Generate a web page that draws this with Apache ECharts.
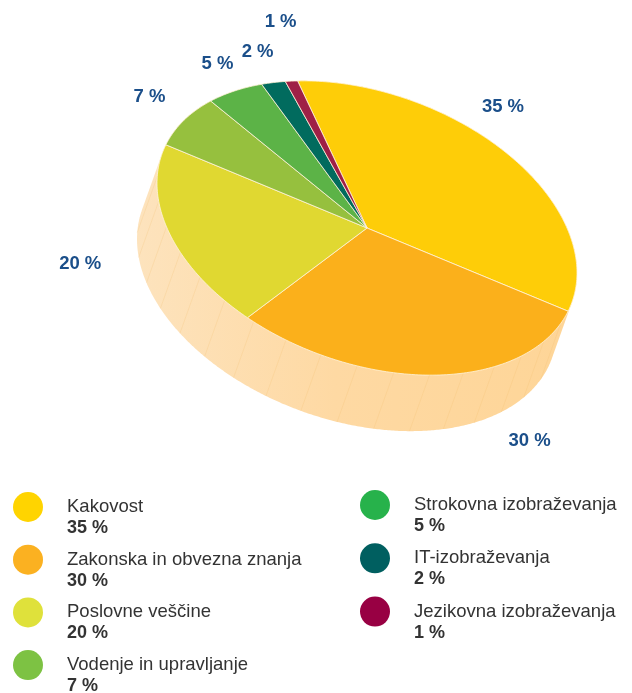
<!DOCTYPE html>
<html>
<head>
<meta charset="utf-8">
<script src="https://cdn.jsdelivr.net/npm/echarts@6/dist/echarts.min.js"></script>
<style>
html, body { margin: 0; padding: 0; background: #fff; }
#chart { width: 632px; height: 693px; }
</style>
</head>
<body>
<div id="chart"></div>
<script>
// data
var names = ['Kakovost', 'Zakonska in obvezna znanja', 'Poslovne veščine', 'Vodenje in upravljanje',
    'Strokovna izobraževanja', 'IT-izobraževanja', 'Jezikovna izobraževanja'];
var values = [35, 30, 20, 7, 5, 2, 1];

// colours
var pieColors = ['#fecd08', '#fbb01b', '#e0d831', '#96c03e', '#5cb347', '#016b5e', '#9f2046'];
var legendColors = ['#ffd400', '#fbb121', '#dfe13b', '#7dc243', '#27b24b', '#005f60', '#980043'];

// tilted pie layout
var cx = 367, cy = 228, ra = 218, rb = 135, tilt = 20 * Math.PI / 180;
var depth = [-20, 56];
var startAngle = 122;
var labelTurn = [12.5, 12, 7.5, -1, -2, -1, -4];
var labelReach = [1.25, 1.49, 1.53, 1.2, 1.18, 1.21, 1.4];
var font = 'Liberation Sans';

var total = 0, cum = [];
for (var i = 0; i < values.length; i++) {
    cum.push(total);
    total += values[i];
}

function toRad(d) {
    return d * Math.PI / 180;
}

// point of the top ellipse for a pie angle (deg, counter clockwise from 3 o'clock)
function onEllipse(deg, k) {
    var p = toRad(deg);
    var x0 = ra * k * Math.cos(p), y0 = -rb * k * Math.sin(p);
    return [cx + x0 * Math.cos(tilt) - y0 * Math.sin(tilt),
        cy + x0 * Math.sin(tilt) + y0 * Math.cos(tilt)];
}

// is the rim visible at this angle
function facesDown(deg) {
    var p = toRad(deg);
    var nx0 = Math.cos(p) / ra, ny0 = -Math.sin(p) / rb;
    var nx = nx0 * Math.cos(tilt) - ny0 * Math.sin(tilt);
    var ny = nx0 * Math.sin(tilt) + ny0 * Math.cos(tilt);
    return nx * depth[0] + ny * depth[1] > 0;
}

function sideShapes() {
    var out = [];
    var pts = [];
    for (var d = 0; d < 360; d += 0.5) {
        var e = onEllipse(d, 1);
        pts.push(facesDown(d) ? [e[0] + depth[0], e[1] + depth[1]] : e);
    }
    out.push({
        type: 'polygon',
        shape: {points: pts},
        style: {
            fill: new echarts.graphic.LinearGradient(0, 0, 1, 0, [
                {offset: 0, color: '#fde3bd'},
                {offset: 0.45, color: '#fed9a3'},
                {offset: 1, color: '#fed597'}
            ])
        }
    });
    for (var d2 = 0; d2 < 360; d2 += 10) {
        if (!facesDown(d2 - 3) || !facesDown(d2 + 3)) continue;
        var s = onEllipse(d2, 1);
        out.push({
            type: 'line',
            shape: {x1: s[0], y1: s[1], x2: s[0] + depth[0], y2: s[1] + depth[1]},
            style: {stroke: 'rgba(240, 185, 100, 0.2)', lineWidth: 1}
        });
    }
    return out;
}

function renderSlice(params, api) {
    var i = params.dataIndex;
    var children = i === 0 ? sideShapes() : [];
    var a0 = startAngle - 360 * cum[i] / total;
    var a1 = a0 - 360 * api.value(0) / total;
    var pts = [[cx, cy]];
    var n = Math.max(2, Math.ceil(a0 - a1));
    for (var j = 0; j <= n; j++) {
        pts.push(onEllipse(a0 + (a1 - a0) * j / n, 1));
    }
    children.push({
        type: 'polygon',
        shape: {points: pts},
        style: {fill: pieColors[i], stroke: '#fff4dc', lineWidth: 0.8, lineJoin: 'round'}
    });
    var lp = onEllipse((a0 + a1) / 2 + labelTurn[i], labelReach[i]);
    children.push({
        type: 'text',
        x: lp[0],
        y: lp[1],
        style: {
            text: api.value(0) + ' %',
            fill: '#1b4f8a',
            fontSize: 18.5,
            fontWeight: 'bold',
            fontFamily: font,
            align: 'center',
            verticalAlign: 'middle'
        }
    });
    return {type: 'group', children: children};
}

var legendBase = {
    orient: 'vertical',
    icon: 'circle',
    itemWidth: 30,
    itemHeight: 30,
    height: 300,
    padding: 0,
    selectedMode: false,
    formatter: function (name) {
        return '{n|' + name + '}\n{p|' + values[names.indexOf(name)] + ' %}';
    },
    textStyle: {
        padding: [21, 0, 0, 19],
        rich: {
            n: {fontSize: 18.5, color: '#333', lineHeight: 21, fontFamily: font},
            p: {fontSize: 18, color: '#333', fontWeight: 'bold', lineHeight: 21, fontFamily: font}
        }
    }
};

var chart = echarts.init(document.getElementById('chart'));
var option = {
    animation: false,
    textStyle: {fontFamily: font},
    legend: [
        echarts.util.extend({data: names.slice(0, 4), left: 13, top: 492, itemGap: 7.7}, legendBase),
        echarts.util.extend({data: names.slice(4), left: 360, top: 490, itemGap: 8.3}, legendBase)
    ],
    series: [
        {
            type: 'custom',
            coordinateSystem: 'none',
            silent: true,
            renderItem: renderSlice,
            data: values
        },
        {
            // only feeds the legend
            type: 'pie',
            radius: [0, 0],
            silent: true,
            label: {show: false},
            labelLine: {show: false},
            itemStyle: {borderWidth: 0},
            data: names.map(function (n, k) {
                return {name: n, value: values[k], itemStyle: {color: legendColors[k]}};
            })
        }
    ]
};
chart.setOption(option);
</script>
</body>
</html>
